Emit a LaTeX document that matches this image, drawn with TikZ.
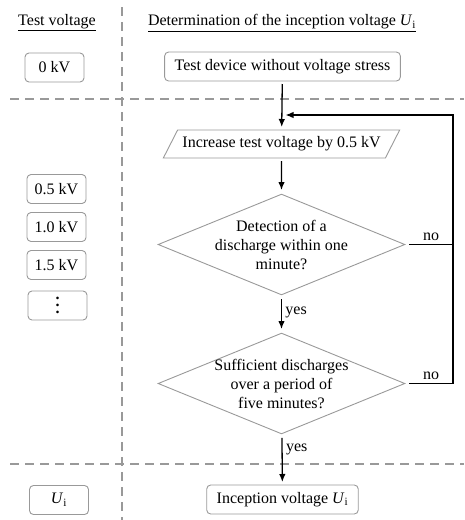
\documentclass[tikz,border=0pt]{standalone}
\usepackage{fontspec}
\setmainfont{Liberation Serif}
\usepackage{tikz}
\usetikzlibrary{shapes.geometric,arrows.meta}

\newcommand{\Ui}{\textit{U}\textsubscript{i}}
\newcommand{\moredots}{\vbox{\baselineskip=7pt\lineskiplimit=0pt\hbox{\textbf{.}}\hbox{\textbf{.}}\hbox{\textbf{.}}}}

\tikzset{
	sep/.style={draw=black!40, line width=2pt, dash pattern=on 9pt off 6pt},
	box/.style={draw=black!40, line width=0.9pt, rounded corners=4pt, minimum height=29pt, inner xsep=10pt, outer sep=3pt},
	vbox/.style={box, minimum width=59pt, inner xsep=4pt},
	io/.style={trapezium, trapezium left angle=57, trapezium right angle=123, trapezium stretches=true, draw=black!40, line width=0.9pt, inner xsep=1pt, minimum width=237pt, minimum height=28pt, outer sep=3pt},
	dec/.style={diamond, draw=black!40, line width=0.9pt, align=center, inner sep=-4pt, aspect=2.42, minimum width=249pt, minimum height=103pt, outer sep=3pt},
	flow/.style={line width=1.3pt}
}

\begin{document}
\begin{tikzpicture}[x=1pt, y=-1pt, >={Latex[length=8pt,width=6.5pt]}, font=\fontsize{16}{19}\selectfont]
	\useasboundingbox (0,0) rectangle (464,520);
	\draw[sep] (122,7) -- (122,520);
	\draw[sep] (10,99) -- (464,99);
	\draw[sep] (10,464) -- (464,464);

	\node (tv) at (57,23) {\underline{Test voltage}};
	\node (det) at (282,23) {\underline{Determination of the inception voltage \Ui}};

	\node[vbox] (v0) at (54.5,67.5) {0 kV};
	\node[vbox] (v1) at (56.5,189) {0.5 kV};
	\node[vbox] (v2) at (56.5,227) {1.0 kV};
	\node[vbox] (v3) at (56.5,265) {1.5 kV};
	\node[vbox] (v4) at (57.5,305.5) {\moredots};
	\node[vbox] (v5) at (59,500) {\Ui};

	\node[box] (start) at (282.5,66.5) {Test device without voltage stress};
	\node[io] (inc) at (281.5,144) {Increase test voltage by 0.5 kV};
	\node[dec] (d1) at (281.5,244.5) {Detection of a\\discharge within one\\minute?};
	\node[dec] (d2) at (281.5,383.5) {Sufficient discharges\\over a period of\\five minutes?};
	\node[box] (end) at (282.5,499.5) {Inception voltage \Ui};
	\coordinate (back) at (453,115);

	\draw[flow][->] (start) -- (inc);
	\draw[flow][->] (inc) -- (d1);
	\draw[flow][->] (d1) -- node [right, pos=0.45] {yes} (d2);
	\draw[flow][->] (d2) -- node [right, pos=0.27] {yes} (end);
	\draw[flow] (d1.east) -- node [above] {no} (d1.east -| back);
	\draw[flow][->, shorten >=4pt] (d2.east) -- node [above] {no} (d2.east -| back) -- (back) -- (inc.north |- back);
\end{tikzpicture}
\end{document}
